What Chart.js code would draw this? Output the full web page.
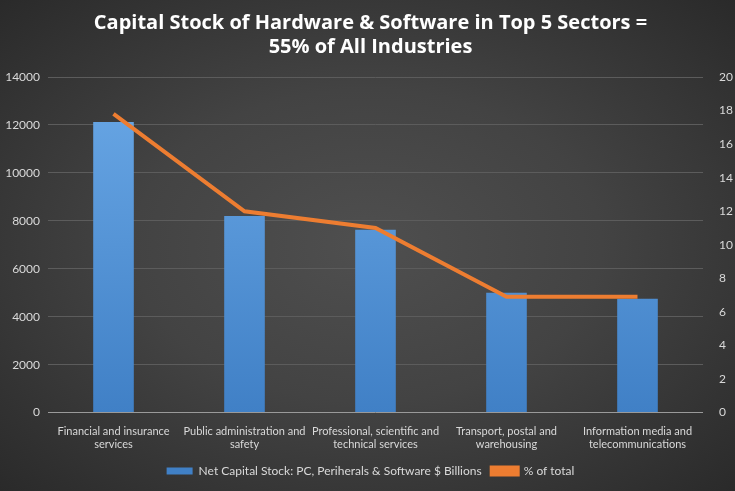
<!DOCTYPE html>
<html>
<head>
<meta charset="utf-8">
<script src="https://cdn.jsdelivr.net/npm/chart.js@4"></script>
<style>
  html, body { margin: 0; padding: 0; }
  body {
    width: 735px; height: 491px; overflow: hidden;
    background: radial-gradient(ellipse at 50% 50%, #4f4f4f 0%, #434343 45%, #2a2a2a 100%);
  }
  #wrap { position: relative; width: 735px; height: 491px; }
</style>
</head>
<body>
<div id="wrap"><canvas id="chart"></canvas></div>
<script>
// Datos de la grafica
const sectores = [
    ['Financial and insurance', 'services'],
    ['Public administration and', 'safety'],
    ['Professional, scientific and', 'technical services'],
    ['Transport, postal and', 'warehousing'],
    ['Information media and', 'telecommunications']
];
const stockCapital = [12125, 8200, 7625, 5000, 4750];
const porcentajeTotal = [17.8, 12.0, 11.0, 6.9, 6.9];
const tituloLineas = ['Capital Stock of Hardware & Software in Top 5 Sectors =', '55% of All Industries'];

const fuente = 'Lato, "Open Sans", sans-serif';
const colorTexto = '#d9d9d9';

// Degradado azul de las barras
function degradadoBarras(context) {
    const chart = context.chart;
    const area = chart.chartArea;
    if (!area) return '#5b9bd5';
    const g = chart.ctx.createLinearGradient(0, area.top, 0, area.bottom);
    g.addColorStop(0, '#6aa8e6');
    g.addColorStop(1, '#4080c6');
    return g;
}

const ctx = document.getElementById('chart').getContext('2d');
new Chart(ctx, {
    type: 'bar',
    data: {
        labels: sectores,
        datasets: [
            {
                type: 'bar',
                label: 'Net Capital Stock: PC, Periherals & Software $ Billions',
                data: stockCapital,
                backgroundColor: degradadoBarras,
                borderWidth: 0,
                categoryPercentage: 1,
                barPercentage: 0.31,
                yAxisID: 'y',
                order: 1
            },
            {
                type: 'line',
                label: '% of total',
                data: porcentajeTotal,
                borderColor: '#ed7d31',
                backgroundColor: '#ed7d31',
                borderWidth: 4,
                pointRadius: 0,
                tension: 0,
                yAxisID: 'y1',
                order: 0
            }
        ]
    },
    options: {
        responsive: true,
        maintainAspectRatio: false,
        animation: false,
        layout: { padding: { left: 6, right: 0, top: 5, bottom: 4 } },
        plugins: {
            title: {
                display: true,
                text: tituloLineas,
                color: '#ffffff',
                font: { family: '"Open Sans", sans-serif', size: 20, weight: 'bold' },
                padding: { top: 6, bottom: 18 },
                lineHeight: 1.25
            },
            legend: {
                display: true,
                position: 'bottom',
                labels: {
                    color: colorTexto,
                    font: { family: fuente, size: 12 },
                    boxWidth: 26,
                    boxHeight: 7,
                    padding: 10,
                    sort: (a, b) => a.datasetIndex - b.datasetIndex
                }
            },
            tooltip: { enabled: false }
        },
        scales: {
            x: {
                grid: { display: false },
                border: { display: false },
                afterFit: s => { s.paddingLeft = 0; s.paddingRight = 0; },
                ticks: {
                    color: colorTexto,
                    font: { family: fuente, size: 11 },
                    maxRotation: 0,
                    autoSkip: false,
                    padding: 4
                }
            },
            y: {
                position: 'left',
                min: 0,
                max: 14000,
                afterFit: s => { s.width = 42; },
                ticks: {
                    stepSize: 2000,
                    color: colorTexto,
                    font: { family: fuente, size: 12 },
                    padding: 8,
                    callback: v => String(v)
                },
                grid: {
                    color: function(c) { return c.tick.value === 0 ? '#9a9a9a' : '#5c5c5c'; },
                    lineWidth: 1,
                    drawTicks: false
                },
                border: { display: false }
            },
            y1: {
                position: 'right',
                min: 0,
                max: 20,
                afterFit: s => { s.width = 32; },
                ticks: {
                    stepSize: 2,
                    color: colorTexto,
                    font: { family: fuente, size: 12 },
                    padding: 8,
                    callback: v => String(v)
                },
                grid: { display: false },
                border: { display: false }
            }
        }
    }
});
</script>
</body>
</html>
